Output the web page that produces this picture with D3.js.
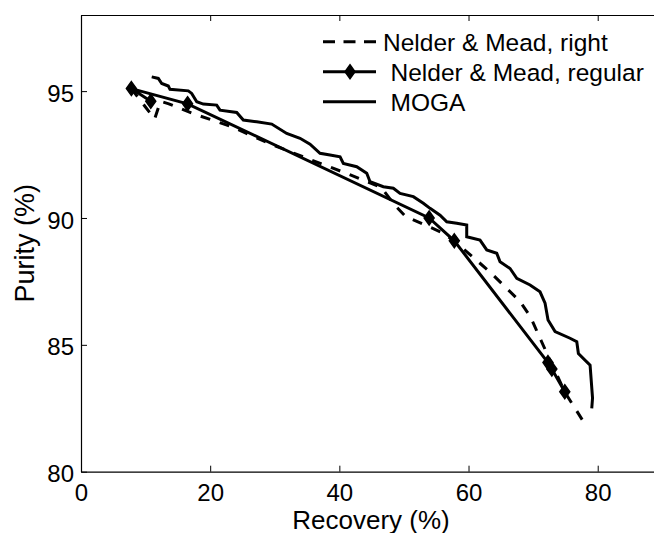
<!DOCTYPE html>
<html>
<head>
<meta charset="utf-8">
<script src="https://cdn.jsdelivr.net/npm/d3@7"></script>
<style>
  body { margin: 0; background: #fff; }
  svg { display: block; }
  text { font-family: "Liberation Sans", Arial, sans-serif; fill: #000; }
</style>
</head>
<body>
<svg id="chart" width="654" height="533"></svg>
<script>
// Axis ticks
const xTicks = [0, 20, 40, 60, 80];
const yTicks = [80, 85, 90, 95];

// Nelder & Mead, "right" variant (dashed)
const recoveryRight = [7.8, 11.4, 12.3, 13.6, 17.5, 23.3, 29.0, 35.5, 41.7, 46.5, 48.6, 50.3, 53.3, 56.1, 58.2, 60.7, 63.2, 65.8, 68.0, 69.6, 71.0, 72.6, 75.0, 77.6];
const purityRight   = [95.1, 93.9, 94.6, 94.5, 94.1, 93.6, 92.95, 92.3, 91.7, 91.2, 90.5, 90.05, 89.72, 89.4, 89.0, 88.45, 87.9, 87.25, 86.7, 86.1, 85.3, 84.4, 83.1, 82.05];

// Nelder & Mead, regular (solid with diamonds)
const recoveryRegular = [10.8, 7.8, 16.5, 53.9, 57.8, 72.3, 72.9, 74.9];
const purityRegular   = [94.6, 95.1, 94.5, 90.0, 89.1, 84.3, 84.05, 83.15];

// MOGA Pareto front
const recoveryMoga = [10.95, 11.97, 12.5, 13.52, 13.78, 16.62, 17.14, 17.92, 18.94, 21.01, 21.52, 24.11, 25.13, 27.21, 29.53, 31.85, 33.91, 35.46, 37.01, 38.56, 40.11, 40.62, 42.69, 44.24, 44.75, 46.81, 48.36, 49.4, 51.46, 53.0, 54.04, 55.59, 56.63, 58.18, 59.72, 59.72, 61.78, 62.82, 64.37, 64.88, 66.43, 67.47, 69.53, 71.07, 71.85, 72.31, 73.4, 75.72, 76.76, 77.01, 78.82, 79.2, 79.08];
const purityMoga   = [95.56, 95.5, 95.3, 95.2, 95.07, 95.01, 94.91, 94.58, 94.49, 94.45, 94.25, 94.16, 93.86, 93.79, 93.7, 93.33, 93.14, 92.91, 92.55, 92.48, 92.41, 92.15, 92.02, 91.76, 91.43, 91.23, 91.17, 90.97, 90.84, 90.58, 90.38, 90.11, 89.85, 89.79, 89.72, 89.26, 89.13, 88.74, 88.61, 88.27, 88.01, 87.62, 87.36, 87.09, 86.64, 85.98, 85.52, 85.26, 85.12, 84.66, 84.2, 82.9, 82.5];

const legendLabels = ["Nelder & Mead, right", "Nelder & Mead, regular", "MOGA"];

const svg = d3.select("#chart");
const plotLeft = 81, plotTop = 15, plotBottom = 471.7;
const pxPerUnit = 6.4588;

const x = d3.scaleLinear().domain([0, 90]).range([plotLeft, plotLeft + 90 * pxPerUnit]);
const y = d3.scaleLinear().domain([80, 98]).range([plotBottom, plotTop]);

// Axes (ticks point inward)
const gx = svg.append("g").attr("transform", `translate(0,${plotBottom})`)
  .call(d3.axisBottom(x).tickValues(xTicks).tickSizeInner(-6).tickSizeOuter(0).tickPadding(12));
const gxTop = svg.append("g").attr("transform", `translate(0,${plotTop})`)
  .call(d3.axisTop(x).tickValues(xTicks).tickSizeInner(-6).tickSizeOuter(0).tickFormat(""));
const gy = svg.append("g").attr("transform", `translate(${plotLeft},0)`)
  .call(d3.axisLeft(y).tickValues(yTicks).tickSizeInner(-6).tickSizeOuter(0).tickPadding(7));

[gx, gxTop, gy].forEach(g => {
  g.selectAll("path.domain").attr("stroke", "#000").attr("stroke-width", 1.2);
  g.selectAll(".tick line").attr("stroke", "#000").attr("stroke-width", 1);
  g.selectAll(".tick text").attr("font-size", 24).attr("fill", "#000")
    .attr("font-family", "'Liberation Sans', Arial, sans-serif");
});
gy.selectAll(".tick text").attr("dy", "0.42em");

// Axis titles
svg.append("text").attr("x", 371).attr("y", 528.5).attr("text-anchor", "middle")
  .attr("font-size", 26).text("Recovery (%)");
svg.append("text").attr("transform", "translate(33.5,243.3) rotate(-90)")
  .attr("text-anchor", "middle").attr("font-size", 27).text("Purity (%)");

const line = d3.line().x(d => x(d[0])).y(d => y(d[1]));

const rightPts = recoveryRight.map((r, i) => [r, purityRight[i]]);
const regularPts = recoveryRegular.map((r, i) => [r, purityRegular[i]]);
const mogaPts = recoveryMoga.map((r, i) => [r, purityMoga[i]]);

const plot = svg.append("g");

plot.append("path").datum(mogaPts).attr("d", line)
  .attr("fill", "none").attr("stroke", "#000").attr("stroke-width", 3).attr("stroke-linejoin", "miter");

plot.append("path").datum(rightPts).attr("d", line)
  .attr("fill", "none").attr("stroke", "#000").attr("stroke-width", 3)
  .attr("stroke-dasharray", "10,10");

plot.append("path").datum(regularPts).attr("d", line)
  .attr("fill", "none").attr("stroke", "#000").attr("stroke-width", 3);

const diamond = (cx, cy) => `M${cx},${cy - 7}L${cx + 5},${cy}L${cx},${cy + 7}L${cx - 5},${cy}Z`;

plot.selectAll("path.marker").data(regularPts).enter().append("path")
  .attr("class", "marker")
  .attr("d", d => diamond(x(d[0]), y(d[1])))
  .attr("fill", "#000").attr("stroke", "#000").attr("stroke-width", 1.5);

// Legend
const legendRows = [41.7, 71.7, 101.7];
const legendTextX = [383, 390.5, 390.5];
const lg = svg.append("g");
legendLabels.forEach((label, i) => {
  const ly = legendRows[i];
  const seg = lg.append("line").attr("x1", 323).attr("x2", 376).attr("y1", ly).attr("y2", ly)
    .attr("stroke", "#000").attr("stroke-width", 3);
  if (i === 0) seg.attr("stroke-dasharray", "12,8.5");
  if (i === 1) lg.append("path").attr("d", diamond(350, ly)).attr("fill", "#000")
    .attr("stroke", "#000").attr("stroke-width", 1.5);
  lg.append("text").attr("x", legendTextX[i]).attr("y", ly + 8.8)
    .attr("font-size", 24.5).text(label);
});
</script>
</body>
</html>
